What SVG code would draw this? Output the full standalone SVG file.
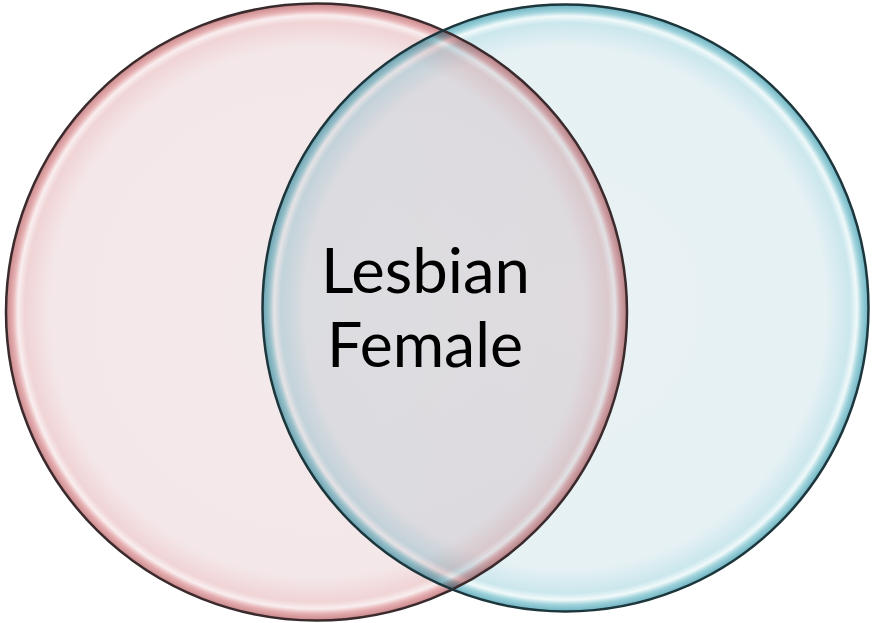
<svg xmlns="http://www.w3.org/2000/svg" width="873" height="623" viewBox="0 0 873 623">
  <style>
    .label { font-family: Lato, "Open Sans", "Liberation Sans", sans-serif; font-size: 62px; fill: #000; text-anchor: middle; }
    .rim { fill: none; stroke-width: 2.5; }
  </style>
  <defs>
    <radialGradient id="gPink" cx="0.5" cy="0.5" r="0.5">
      <stop offset="0" stop-color="#f4eaeb"/>
      <stop offset="0.86" stop-color="#f4e7e9"/>
      <stop offset="0.94" stop-color="#f0d4d6"/>
      <stop offset="0.962" stop-color="#f9eeef"/>
      <stop offset="0.978" stop-color="#e6b0b2"/>
      <stop offset="1" stop-color="#c8868a"/>
    </radialGradient>
    <radialGradient id="gBlue" cx="0.5" cy="0.5" r="0.5">
      <stop offset="0" stop-color="#e9f2f5"/>
      <stop offset="0.86" stop-color="#e6f1f4"/>
      <stop offset="0.94" stop-color="#cbe7ed"/>
      <stop offset="0.962" stop-color="#f0f9fa"/>
      <stop offset="0.978" stop-color="#a0d3dc"/>
      <stop offset="1" stop-color="#6cb2c1"/>
    </radialGradient>
  </defs>
  <rect width="873" height="623" fill="#ffffff"/>
  <g id="set-left">
    <ellipse cx="316.5" cy="312" rx="310.5" ry="308.5" fill="url(#gPink)"/>
  </g>
  <g id="set-right" style="mix-blend-mode: multiply">
    <ellipse cx="565.5" cy="308" rx="303" ry="303.5" fill="url(#gBlue)"/>
  </g>
  <g id="outlines">
    <ellipse class="rim" cx="316.5" cy="312" rx="310.5" ry="308.5" stroke="#3a2a2c"/>
    <ellipse class="rim" cx="565.5" cy="308" rx="303" ry="303.5" stroke="#1c363c"/>
  </g>
  <g id="overlap-label">
    <text class="label" x="425.5" y="293" textLength="209" lengthAdjust="spacingAndGlyphs">Lesbian</text>
    <text class="label" x="425" y="367" textLength="196" lengthAdjust="spacingAndGlyphs">Female</text>
  </g>
</svg>
